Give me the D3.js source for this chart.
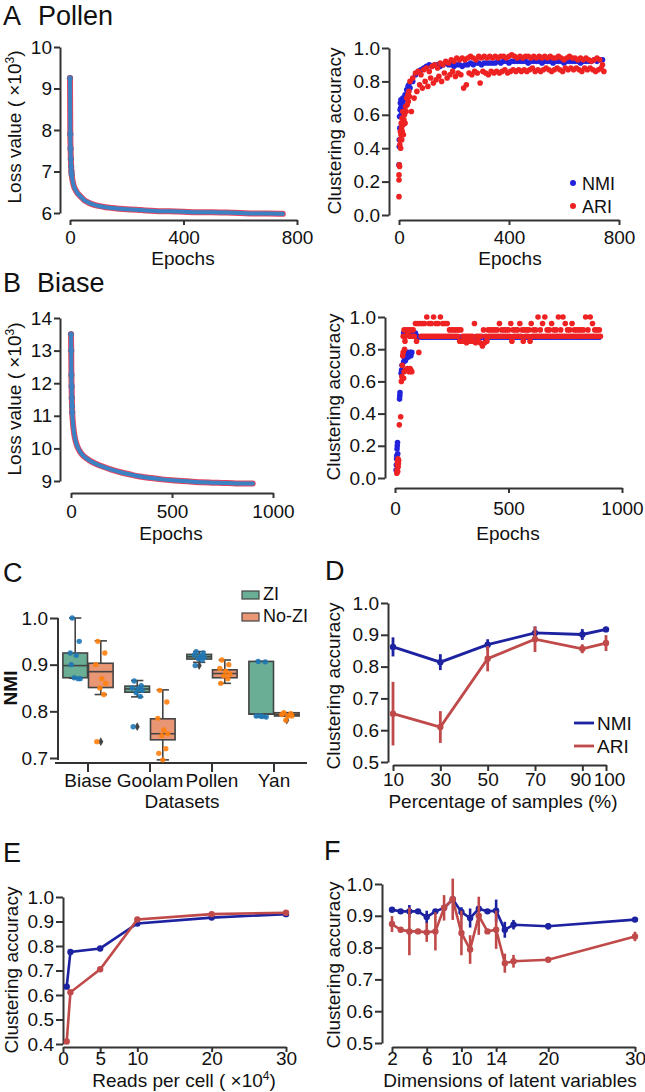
<!DOCTYPE html>
<html><head><meta charset="utf-8">
<script src="https://cdn.jsdelivr.net/npm/d3@7"></script>
<style>
body{margin:0;background:#fff;}
svg{display:block;}
</style></head><body>
<svg id="chart" width="645" height="1092"></svg>
<script>
// ---------------- DATA ----------------
// Panel A (Pollen) loss curve
const pollenEpochs = [0,1,2,3,4,5,6,8,10,12,15,20,25,30,40,50,60,75,100,125,150,200,250,300,350,400,450,500,550,600,650,700,750];
const pollenLoss = [9.25,7.90,7.55,7.30,7.12,7.00,6.92,6.82,6.75,6.69,6.62,6.55,6.49,6.45,6.38,6.31,6.27,6.22,6.17,6.14,6.12,6.09,6.07,6.05,6.04,6.03,6.02,6.02,6.01,6.00,5.99,5.99,5.98];
// Panel A clustering accuracy: early [epoch, value] pairs, late values every 10 epochs from 40
const pollenNmiEarly = [[0,0.30],[1,0.41],[1,0.45],[2,0.59],[3,0.52],[4,0.63],[5,0.67],[6,0.64],[7,0.69],[8,0.60],[9,0.66],[10,0.62],[12,0.68],[14,0.70],[16,0.66],[18,0.64],[20,0.69],[22,0.72],[25,0.70],[28,0.75],[30,0.73],[33,0.77],[36,0.78],[38,0.76]];
const pollenNmiLate = [0.76,0.80,0.84,0.86,0.87,0.88,0.89,0.90,0.89,0.90,
 0.90,0.89,0.90,0.91,0.90,0.90,0.89,0.90,0.90,0.89,
 0.90,0.90,0.91,0.90,0.91,0.91,0.90,0.91,0.91,0.91,
 0.91,0.91,0.92,0.91,0.92,0.92,0.91,0.92,0.92,0.92,
 0.92,0.92,0.92,0.91,0.92,0.92,0.92,0.92,0.91,0.92,
 0.92,0.92,0.91,0.92,0.92,0.92,0.91,0.92,0.92,0.92,
 0.92,0.92,0.91,0.92,0.92,0.92,0.92,0.93,0.92,0.93,
 0.93];
const pollenAriEarly = [[0,0.11],[0,0.21],[0,0.24],[1,0.30],[2,0.29],[3,0.42],[4,0.45],[5,0.50],[6,0.40],[7,0.48],[8,0.55],[9,0.52],[10,0.45],[11,0.58],[12,0.50],[14,0.62],[15,0.54],[16,0.48],[18,0.57],[20,0.60],[22,0.55],[24,0.65],[26,0.62],[28,0.70],[30,0.66],[32,0.72],[34,0.68],[36,0.74],[38,0.71]];
const pollenAriUpper = [0.80,0.82,0.85,0.86,0.84,0.87,0.88,0.86,0.89,0.90,
 0.88,0.91,0.90,0.92,0.91,0.93,0.92,0.94,0.93,0.94,
 0.93,0.94,0.95,0.94,0.93,0.95,0.94,0.95,0.94,0.95,
 0.94,0.95,0.94,0.95,0.95,0.94,0.95,0.96,0.95,0.94,
 0.95,0.94,0.95,0.95,0.94,0.95,0.94,0.95,0.94,0.95,
 0.94,0.95,0.94,0.94,0.95,0.94,0.93,0.94,0.95,0.94,
 0.94,0.93,0.94,0.93,0.94,0.93,0.92,0.93,0.94,0.93,
 0.90];
const pollenAriLower = [0.62,0.70,0.74,0.78,0.76,0.80,0.77,0.82,0.79,0.81,
 0.83,0.80,0.85,0.82,0.84,0.86,0.83,0.85,0.84,0.76,
 0.78,0.85,0.84,0.86,0.85,0.79,0.86,0.85,0.84,0.86,
 0.85,0.86,0.85,0.86,0.87,0.85,0.86,0.87,0.86,0.87,
 0.86,0.87,0.86,0.87,0.88,0.86,0.87,0.86,0.87,0.88,
 0.87,0.86,0.87,0.88,0.87,0.86,0.88,0.87,0.88,0.87,
 0.88,0.87,0.86,0.88,0.87,0.88,0.87,0.86,0.87,0.88,
 0.86];

// Panel B (Biase) loss curve
const biaseEpochs = [0,1,2,3,4,5,6,8,10,12,15,20,25,30,40,50,60,75,100,125,150,200,250,300,350,400,450,500,550,600,650,700,750,800,850,900];
const biaseLoss = [13.50,13.00,12.25,11.90,11.55,11.30,11.10,10.90,10.75,10.62,10.48,10.30,10.18,10.08,9.95,9.85,9.78,9.70,9.60,9.52,9.46,9.35,9.26,9.19,9.13,9.09,9.05,9.02,9.00,8.98,8.96,8.95,8.94,8.93,8.92,8.92];
// Panel B clustering accuracy: early pairs, late values every 10 epochs from 70
const biaseNmiEarly = [[5,0.05],[6,0.08],[7,0.12],[8,0.14],[9,0.18],[10,0.20],[11,0.22],[12,0.15],[20,0.49],[21,0.51],[22,0.53],[27,0.65],[29,0.67],[31,0.70],[38,0.72],[42,0.74],[46,0.73],[50,0.76],[54,0.78],[58,0.75],[62,0.77],[66,0.78],[70,0.76],[74,0.78],[38,0.90],[42,0.90],[46,0.90],[50,0.90],[54,0.90],[58,0.90],[62,0.90],[66,0.90]];
const biaseNmiLate = [0.90,0.90,0.90,0.88,0.875,0.875,0.875,0.875,0.875,0.875,
 0.875,0.875,0.875,0.875,0.875,0.875,0.875,0.875,0.875,0.875,
 0.875,0.875,0.875,0.875,0.875,0.875,0.875,0.875,0.875,0.875,
 0.875,0.875,0.875,0.86,0.875,0.875,0.875,0.875,0.875,0.875,
 0.875,0.875,0.875,0.875,0.875,0.875,0.875,0.875,0.875,0.875,
 0.875,0.875,0.875,0.875,0.875,0.875,0.875,0.875,0.875,0.875,
 0.875,0.875,0.875,0.875,0.875,0.875,0.875,0.875,0.875,0.875,
 0.875,0.875,0.875,0.875,0.875,0.875,0.875,0.875,0.875,0.875,
 0.875,0.875,0.875,0.875];
const biaseAriEarly = [[8,0.03],[9,0.05],[10,0.08],[11,0.10],[12,0.04],[13,0.12],[14,0.07],[15,0.09],[16,0.11],[19,0.33],[25,0.38],[28,0.60],[30,0.63],[32,0.70],[34,0.76],[36,0.78],[38,0.62],[40,0.66],[42,0.80],[44,0.85],[46,0.67],[50,0.67],[54,0.68],[58,0.67],[62,0.66],[66,0.68],[70,0.67],[74,0.66],[36,0.88],[40,0.92],[46,0.88],[50,0.92],[56,0.90],[60,0.92],[64,0.88]];
const biaseAriUpper = [0.92,0.92,0.96,0.96,0.96,0.96,0.96,1.00,0.96,0.96,
 1.00,0.96,0.96,1.00,0.96,0.96,0.96,0.92,0.92,0.92,
 0.92,0.92,0.92,0.88,0.88,0.88,0.88,0.88,0.96,0.88,
 0.88,0.88,0.92,0.88,0.92,0.92,0.92,0.92,0.92,0.96,
 0.92,0.92,0.92,0.92,0.96,0.92,0.92,0.92,0.96,0.92,
 0.92,0.92,0.92,0.96,0.92,0.92,1.00,0.92,0.96,1.00,
 0.92,0.92,0.96,0.92,0.92,1.00,0.92,1.00,0.96,0.92,
 0.92,0.96,0.92,0.92,0.92,0.92,0.92,1.00,0.92,1.00,
 0.96,0.92,0.92,0.92];
const biaseAriLower = [0.88,0.88,0.85,0.78,0.88,0.88,0.88,0.88,0.88,0.88,
 0.88,0.88,0.88,0.88,0.88,0.88,0.88,0.88,0.88,0.88,
 0.88,0.85,0.85,0.85,0.84,0.85,0.85,0.85,0.84,0.85,
 0.84,0.82,0.84,0.85,0.88,0.88,0.88,0.88,0.88,0.88,
 0.88,0.88,0.88,0.88,0.85,0.88,0.88,0.88,0.88,0.85,
 0.88,0.88,0.85,0.88,0.88,0.88,0.88,0.88,0.88,0.88,
 0.88,0.88,0.88,0.88,0.88,0.88,0.88,0.88,0.88,0.88,
 0.88,0.88,0.88,0.88,0.88,0.88,0.88,0.88,0.88,0.88,
 0.88,0.88,0.88,0.88];

// Panel C box plots: [whiskerLow, Q1, median, Q3, whiskerHigh]
const datasets = ["Biase","Goolam","Pollen","Yan"];
const ziBox   = [[0.871,0.872,0.898,0.925,1.000],[0.831,0.841,0.848,0.854,0.866],[0.905,0.912,0.917,0.922,0.928],[0.788,0.794,0.794,0.907,0.907]];
const noziBox = [[0.836,0.851,0.885,0.903,0.951],[0.696,0.739,0.752,0.784,0.846],[0.860,0.872,0.881,0.889,0.910],[0.790,0.790,0.793,0.797,0.797]];
const ziOutliers   = [[],[0.767],[0.898],[]];
const noziOutliers = [[0.735],[],[],[0.781]];
const ziPoints   = [[1.0,0.95,0.925,0.92,0.87,0.872,0.87,0.90],[0.865,0.855,0.85,0.848,0.845,0.84,0.832,0.767],[0.928,0.925,0.921,0.918,0.916,0.913,0.91,0.898],[0.907,0.906,0.79,0.789,0.788,0.79]];
const noziPoints = [[0.95,0.925,0.90,0.87,0.86,0.85,0.836,0.735],[0.845,0.82,0.785,0.76,0.752,0.748,0.72,0.71,0.696],[0.91,0.90,0.892,0.886,0.88,0.876,0.87,0.86],[0.797,0.795,0.793,0.79,0.79,0.781]];

// Panel D
const dPercent = [10,30,50,70,90,100];
const dNmi    = [0.862,0.814,0.869,0.906,0.901,0.917];
const dNmiErr = [0.030,0.025,0.017,0.020,0.017,0.006];
const dAri    = [0.652,0.610,0.825,0.886,0.856,0.874];
const dAriErr = [0.100,0.050,0.040,0.040,0.014,0.025];

// Panel E
const eReads = [0.5,1,5,10,20,30];
const eNmi = [0.634,0.776,0.790,0.892,0.916,0.930];
const eAri = [0.410,0.611,0.705,0.908,0.930,0.936];

// Panel F
const fDims    = [2,3,4,5,6,7,8,9,10,11,12,13,14,15,16,20,30];
const fNmi     = [0.919,0.914,0.914,0.914,0.896,0.914,0.925,0.952,0.912,0.893,0.922,0.914,0.916,0.856,0.872,0.867,0.888];
const fNmiErr  = [0.005,0.005,0.020,0.005,0.020,0.005,0.010,0.010,0.015,0.030,0.008,0.005,0.035,0.025,0.015,0.010,0.005];
const fAri     = [0.874,0.856,0.851,0.851,0.848,0.851,0.925,0.952,0.846,0.794,0.900,0.851,0.856,0.751,0.757,0.762,0.835];
const fAriErr  = [0.025,0.008,0.075,0.008,0.030,0.060,0.040,0.065,0.070,0.045,0.060,0.008,0.060,0.030,0.020,0.005,0.015];

// ---------------- DRAWING ----------------
const svg = d3.select("#chart");
const FONT = '"Liberation Sans", Arial, Helvetica, sans-serif';
const AX = "#333";
const BLUE_PT = "#2222dc", RED_PT = "#ee2222";
const NMI_C = "#1c22a0", ARI_C = "#c04a4a";
svg.attr("font-family", FONT);

function styleAxis(g, fs){
  g.attr("font-family", FONT).attr("font-size", fs || 19);
  g.select(".domain").attr("stroke", AX).attr("stroke-width", 2);
  g.selectAll(".tick line").attr("stroke", AX).attr("stroke-width", 2);
  g.selectAll(".tick text").attr("fill", "#111");
  return g;
}
function yAxis(scale, x, ticks, fmt, size, pad){
  const a = d3.axisLeft(scale).tickValues(ticks).tickSize(size).tickPadding(pad).tickSizeOuter(0).tickFormat(fmt);
  return styleAxis(svg.append("g").attr("transform", `translate(${x},0)`).call(a));
}
function xAxis(scale, y, ticks, fmt, size, pad){
  const a = d3.axisBottom(scale).tickValues(ticks).tickSize(size).tickPadding(pad).tickSizeOuter(0).tickFormat(fmt);
  return styleAxis(svg.append("g").attr("transform", `translate(0,${y})`).call(a));
}
function text(x, y, s, size, anchor, weight){
  return svg.append("text").attr("x", x).attr("y", y).attr("font-size", size || 19)
    .attr("text-anchor", anchor || "middle").attr("font-weight", weight || "normal").attr("fill", "#111").text(s);
}
function yLabel(x, y, s, size, weight){
  return svg.append("text").attr("transform", `translate(${x},${y}) rotate(-90)`)
    .attr("font-size", size || 19).attr("text-anchor", "middle").attr("font-weight", weight || "normal").attr("fill", "#111").text(s);
}
function supText(sel, base, sup, tail){
  sel.text(null);
  sel.append("tspan").text(base);
  sel.append("tspan").attr("dy", -7).attr("font-size", 12).text(sup);
  sel.append("tspan").attr("dy", 7).text(tail);
}
// horizontal label with superscript, built from separate text pieces centred on cx
function supTitle(cx, y, base, sup, tail){
  const a = text(0, y, base, 19, "start");
  const b = text(0, y - 7, sup, 12, "start");
  const c = text(0, y, tail, 19, "start");
  const wa = a.node().getComputedTextLength(), wb = b.node().getComputedTextLength(), wc = c.node().getComputedTextLength();
  const x0 = cx - (wa + wb + wc) / 2;
  a.attr("x", x0); b.attr("x", x0 + wa); c.attr("x", x0 + wa + wb);
}
function header(letter, name, y){
  svg.append("text").attr("x", letter.x).attr("y", y).attr("font-size", 27).attr("fill", "#111").text(letter.t);
  if (name) svg.append("text").attr("x", name.x).attr("y", y).attr("font-size", 27).attr("fill", "#111").text(name.t);
}
const f1 = d3.format(".1f"), fd = d3.format("d");

// ---------- helpers ----------
function lossPanel(epochs, loss, xs, ys){
  const pts = epochs.map((e,i) => [e, loss[i]]);
  const line = d3.line().x(d => xs(d[0])).y(d => ys(d[1])).curve(d3.curveMonotoneX);
  const g = svg.append("g");
  g.append("path").attr("d", line(pts)).attr("fill", "none").attr("stroke", "#e04862").attr("stroke-width", 6).attr("stroke-linecap", "round");
  g.selectAll(null).data(pts.slice(0, 7)).join("circle")
    .attr("cx", d => xs(d[0])).attr("cy", d => ys(d[1])).attr("r", 3.1).attr("fill", "#76628f");
  g.append("path").attr("d", line(pts)).attr("fill", "none").attr("stroke", "#3b82c4").attr("stroke-width", 4).attr("stroke-linecap", "round");
}
function scatter(data, xs, ys, color){
  svg.append("g").selectAll(null).data(data).join("circle")
    .attr("cx", d => xs(d[0])).attr("cy", d => ys(d[1])).attr("r", 2.8).attr("fill", color);
}

// ===== Panel A =====
header({x:3, t:"A"}, {x:38, t:"Pollen"}, 25);
{
  const ys = d3.scaleLinear([6,10],[213,47]);
  const xs = d3.scaleLinear([0,800],[70,297]);
  yAxis(ys, 60, [6,7,8,9,10], fd, 6, 2);
  xAxis(xs, 220, [0,400,800], fd, 5, 6);
  lossPanel(pollenEpochs, pollenLoss, xs, ys);
  supText(yLabel(21, 127, ""), "Loss value ( ×10", "3", ")");
  text(183, 265, "Epochs");
}
{
  const ys = d3.scaleLinear([0,1],[215,48]);
  const xs = d3.scaleLinear([0,800],[399,619]);
  yAxis(ys, 389, [0,0.2,0.4,0.6,0.8,1.0], f1, 7, 2);
  xAxis(xs, 220, [0,400,800], fd, 5, 6);
  const nmi = pollenNmiEarly.concat(pollenNmiLate.map((v,i) => [40 + i*10, v]));
  const ari = pollenAriEarly.concat(pollenAriUpper.map((v,i) => [40 + i*10, v]), pollenAriLower.map((v,i) => [45 + i*10, v]));
  scatter(nmi, xs, ys, BLUE_PT);
  scatter(ari, xs, ys, RED_PT);
  yLabel(341, 131, "Clustering accuracy");
  text(510, 265, "Epochs");
  svg.append("circle").attr("cx", 573).attr("cy", 183).attr("r", 3).attr("fill", BLUE_PT);
  text(582, 189.5, "NMI", 18, "start");
  svg.append("circle").attr("cx", 573).attr("cy", 206).attr("r", 3).attr("fill", RED_PT);
  text(582, 212.5, "ARI", 18, "start");
}

// ===== Panel B =====
header({x:3, t:"B"}, {x:37, t:"Biase"}, 292);
{
  const ys = d3.scaleLinear([9,14],[481,318]);
  const xs = d3.scaleLinear([0,1000],[71,273]);
  yAxis(ys, 60, [9,10,11,12,13,14], fd, 6, 2);
  xAxis(xs, 493, [0,500,1000], fd, 5, 7);
  lossPanel(biaseEpochs, biaseLoss, xs, ys);
  supText(yLabel(21, 399, ""), "Loss value ( ×10", "3", ")");
  text(171, 540, "Epochs");
}
{
  const ys = d3.scaleLinear([0,1],[478,317]);
  const xs = d3.scaleLinear([0,1000],[395,622]);
  yAxis(ys, 385, [0,0.2,0.4,0.6,0.8,1.0], f1, 7, 2);
  xAxis(xs, 488, [0,500,1000], fd, 5, 9);
  const nmi = biaseNmiEarly.concat(biaseNmiLate.map((v,i) => [70 + i*10, v]));
  const ari = biaseAriEarly.concat(biaseAriUpper.map((v,i) => [70 + i*10, v]), biaseAriLower.map((v,i) => [75 + i*10, v]));
  scatter(nmi, xs, ys, BLUE_PT);
  scatter(ari, xs, ys, RED_PT);
  yLabel(340, 397, "Clustering accuracy");
  text(508, 540, "Epochs");
}

// ===== Panel C =====
header({x:3, t:"C"}, null, 582);
{
  const ys = d3.scaleLinear([0.7,1.0],[758,618]);
  const xb = d3.scaleBand(datasets, [57,305]);
  const c = d => xb(d) + xb.bandwidth()/2;
  const ya = yAxis(ys, 58, [0.7,0.8,0.9,1.0], f1, 8, 2);
  ya.select(".domain").attr("d", `M0,${ys(0.7)+2}V${ys(1.0)}`);
  const xa = styleAxis(svg.append("g").attr("transform","translate(0,763)")
    .call(d3.axisBottom(xb).tickSize(9).tickPadding(2).tickSizeOuter(0)));
  xa.select(".domain").attr("d", "M55,0H307");
  const bw = 24.6;
  const groups = [
    {box: ziBox, out: ziOutliers, pts: ziPoints, fill: "#6aae96", pc: "#1f77b4", off: -12.8},
    {box: noziBox, out: noziOutliers, pts: noziPoints, fill: "#e99675", pc: "#ff7f0e", off: 12.8}
  ];
  const EDGE = "#444";
  const jit = [-3, 4, -5, 1, 5, -1, 3, -4, 0];
  groups.forEach(G => {
    datasets.forEach((d, i) => {
      const cx = c(d) + G.off, b = G.box[i];
      const g = svg.append("g");
      g.append("line").attr("x1", cx).attr("x2", cx).attr("y1", ys(b[0])).attr("y2", ys(b[1])).attr("stroke", EDGE).attr("stroke-width", 1.6);
      g.append("line").attr("x1", cx).attr("x2", cx).attr("y1", ys(b[3])).attr("y2", ys(b[4])).attr("stroke", EDGE).attr("stroke-width", 1.6);
      [b[0], b[4]].forEach(v => g.append("line").attr("x1", cx - bw/4).attr("x2", cx + bw/4).attr("y1", ys(v)).attr("y2", ys(v)).attr("stroke", EDGE).attr("stroke-width", 1.6));
      g.append("rect").attr("x", cx - bw/2).attr("y", ys(b[3])).attr("width", bw).attr("height", Math.max(1, ys(b[1]) - ys(b[3])))
        .attr("fill", G.fill).attr("stroke", EDGE).attr("stroke-width", 1.6);
      g.append("line").attr("x1", cx - bw/2).attr("x2", cx + bw/2).attr("y1", ys(b[2])).attr("y2", ys(b[2])).attr("stroke", EDGE).attr("stroke-width", 1.6);
      G.out[i].forEach(v => g.append("path").attr("d", d3.symbol(d3.symbolDiamond, 22)()).attr("transform", `translate(${cx},${ys(v)})`).attr("fill", EDGE));
    });
  });
  groups.forEach(G => {
    datasets.forEach((d, i) => {
      const cx = c(d) + G.off;
      svg.append("g").selectAll(null).data(G.pts[i]).join("circle")
        .attr("cx", (v, k) => cx + jit[k % jit.length]).attr("cy", v => ys(v)).attr("r", 2.7)
        .attr("fill", G.pc).attr("opacity", 0.9);
    });
  });
  yLabel(17, 688, "NMI", 19, "bold");
  text(182, 808, "Datasets");
  // legend
  svg.append("rect").attr("x", 242).attr("y", 591).attr("width", 17).attr("height", 8).attr("fill", "#6aae96").attr("stroke", EDGE).attr("stroke-width", 1.2);
  text(263, 600, "ZI", 18, "start");
  svg.append("rect").attr("x", 242).attr("y", 613).attr("width", 17).attr("height", 8).attr("fill", "#e99675").attr("stroke", EDGE).attr("stroke-width", 1.2);
  text(263, 622, "No-ZI", 18, "start");
}

// line-with-errorbar helper
function seriesPanel(xs, ys, xv, vals, errs, color, lw){
  const pts = xv.map((x,i) => [x, vals[i], errs ? errs[i] : 0]);
  const g = svg.append("g");
  g.append("path").attr("d", d3.line().x(d => xs(d[0])).y(d => ys(d[1]))(pts))
    .attr("fill", "none").attr("stroke", color).attr("stroke-width", lw);
  if (errs) g.selectAll(null).data(pts).join("line")
    .attr("x1", d => xs(d[0])).attr("x2", d => xs(d[0]))
    .attr("y1", d => ys(d[1] - d[2])).attr("y2", d => ys(d[1] + d[2]))
    .attr("stroke", color).attr("stroke-width", lw);
  g.selectAll(null).data(pts).join("circle")
    .attr("cx", d => xs(d[0])).attr("cy", d => ys(d[1])).attr("r", 3.2).attr("fill", color);
}

// ===== Panel D =====
header({x:325, t:"D"}, null, 580);
{
  const ys = d3.scaleLinear([0.5,1.0],[762,603]);
  const xs = d3.scaleLinear([10,100],[393,606]);
  yAxis(ys, 388, [0.5,0.6,0.7,0.8,0.9,1.0], f1, 7, 2);
  const xa = xAxis(xs, 765, dPercent, fd, 6, 2);
  xa.selectAll(".tick text").attr("dx", d => d === 100 ? 3 : (d === 90 ? -2 : 0));
  seriesPanel(xs, ys, dPercent, dNmi, dNmiErr, NMI_C, 2.8);
  seriesPanel(xs, ys, dPercent, dAri, dAriErr, ARI_C, 2.8);
  yLabel(340, 686, "Clustering accuracy");
  text(503, 808, "Percentage of samples (%)");
  svg.append("line").attr("x1", 574).attr("x2", 594).attr("y1", 723).attr("y2", 723).attr("stroke", NMI_C).attr("stroke-width", 2.8);
  text(597, 729.5, "NMI", 19, "start");
  svg.append("line").attr("x1", 574).attr("x2", 594).attr("y1", 746).attr("y2", 746).attr("stroke", ARI_C).attr("stroke-width", 2.8);
  text(597, 752.5, "ARI", 19, "start");
}

// ===== Panel E =====
header({x:3, t:"E"}, null, 862);
{
  const ys = d3.scaleLinear([0.4,1.0],[1044,897]);
  const xs = d3.scaleLinear([0,30],[63,286]);
  yAxis(ys, 63, [0.4,0.5,0.6,0.7,0.8,0.9,1.0], f1, 7, 2);
  xAxis(xs, 1047, [0,5,10,20,30], fd, 5, 0);
  seriesPanel(xs, ys, eReads, eNmi, null, NMI_C, 2.6);
  seriesPanel(xs, ys, eReads, eAri, null, ARI_C, 2.6);
  yLabel(18, 970, "Clustering accuracy");
  supTitle(184, 1087, "Reads per cell ( ×10", "4", ")");
}

// ===== Panel F =====
header({x:324, t:"F"}, null, 860);
{
  const ys = d3.scaleLinear([0.5,1.0],[1043,884]);
  const xs = d3.scaleLinear([2,30],[392,635]);
  yAxis(ys, 382, [0.5,0.6,0.7,0.8,0.9,1.0], f1, 7, 2);
  xAxis(xs, 1047, [2,6,10,14,20,30], fd, 5, 0);
  seriesPanel(xs, ys, fDims, fNmi, fNmiErr, NMI_C, 2.6);
  seriesPanel(xs, ys, fDims, fAri, fAriErr, ARI_C, 2.6);
  yLabel(340, 965, "Clustering accuracy");
  text(510, 1087, "Dimensions of latent variables");
}
</script></body></html>
